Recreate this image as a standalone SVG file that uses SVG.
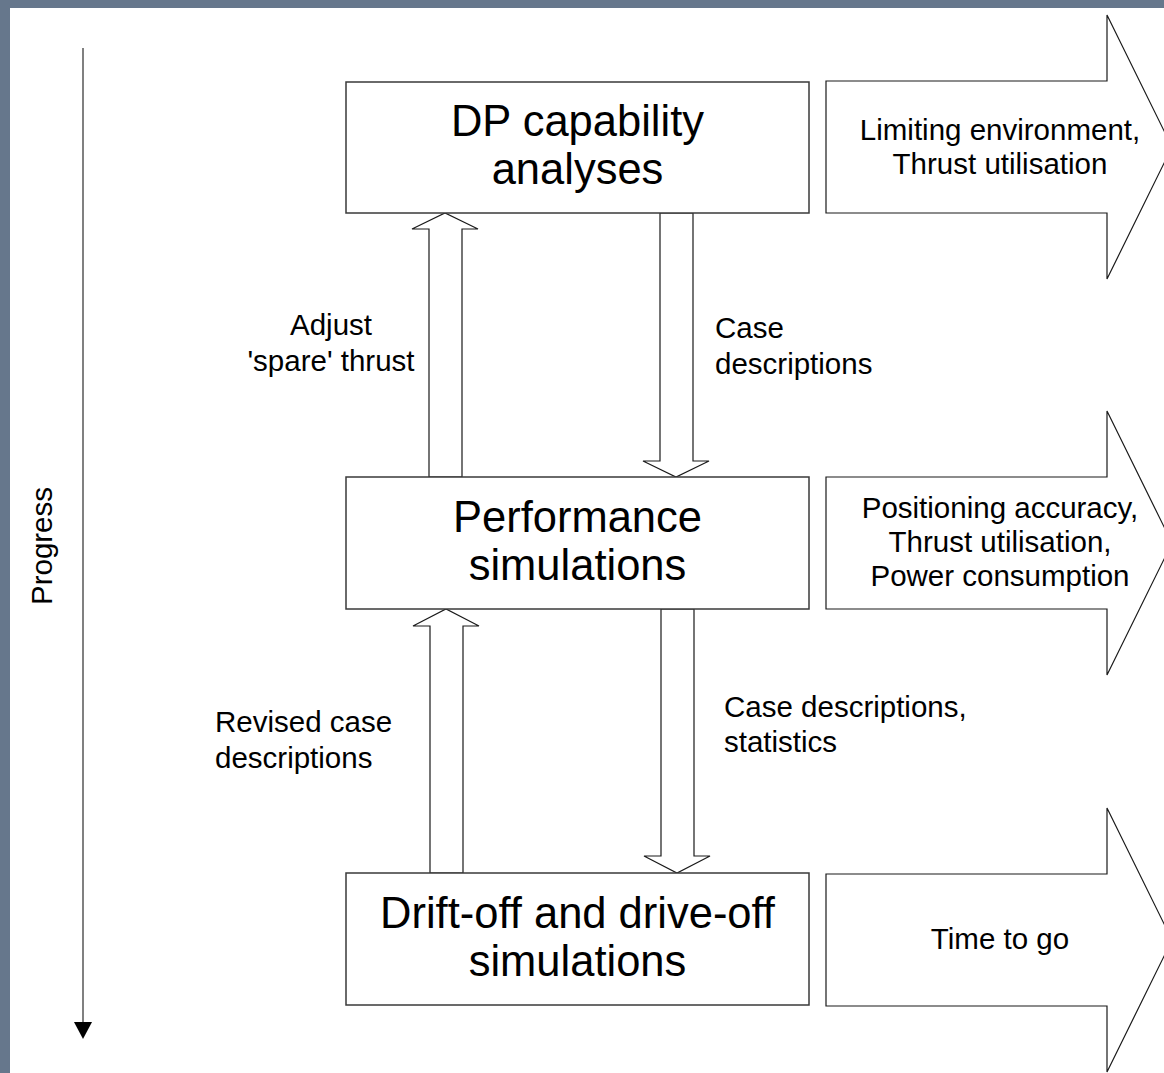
<svg xmlns="http://www.w3.org/2000/svg" width="1164" height="1073" viewBox="0 0 1164 1073">
  <style>
    text { font-family: "Liberation Sans", Arial, sans-serif; fill: #000; }
    .big { font-size: 43.5px; text-anchor: middle; }
    .small { font-size: 29.5px; }
    .mid { text-anchor: middle; }
    .box { fill: #fff; stroke: #3a3a3a; stroke-width: 1.5; }
    .shape { fill: #fff; stroke: #1a1a1a; stroke-width: 1.2; stroke-linejoin: miter; }
  </style>
  <rect x="0" y="0" width="1164" height="1073" fill="#66778c"/>
  <rect x="10" y="8" width="1154" height="1065" fill="#fff"/>

  <g id="progress">
    <line x1="83" y1="48" x2="83" y2="1023" stroke="#808080" stroke-width="2"/>
    <polygon points="74,1022 92,1022 83,1039" fill="#000"/>
    <text class="small mid" transform="translate(52 546) rotate(-90)">Progress</text>
  </g>

  <g id="connectors">
    <path class="shape" d="M429,477 V229 H412 L445,213 L478,229 H462 V477 Z"/>
    <path class="shape" d="M660,213 V461 H643 L676,477 L709,461 H693 V213 Z"/>
    <path class="shape" d="M430,873 V626 H413 L446,609 L479,626 H463 V873 Z"/>
    <path class="shape" d="M661,609 V856 H644 L677,873 L710,856 H694 V609 Z"/>
    <text class="small mid" x="331" y="335">Adjust</text>
    <text class="small mid" x="331" y="371">'spare' thrust</text>
    <text class="small" x="715" y="338">Case</text>
    <text class="small" x="715" y="374">descriptions</text>
    <text class="small" x="215" y="732">Revised case</text>
    <text class="small" x="215" y="768">descriptions</text>
    <text class="small" x="724" y="717">Case descriptions,</text>
    <text class="small" x="724" y="752">statistics</text>
  </g>

  <g id="node-dp">
    <rect class="box" x="346" y="82" width="463" height="131"/>
    <text class="big" x="577.5" y="136">DP capability</text>
    <text class="big" x="577.5" y="184">analyses</text>
  </g>
  <g id="node-perf">
    <rect class="box" x="346" y="477" width="463" height="132"/>
    <text class="big" x="577.5" y="532">Performance</text>
    <text class="big" x="577.5" y="580">simulations</text>
  </g>
  <g id="node-drift">
    <rect class="box" x="346" y="873" width="463" height="132"/>
    <text class="big" x="577.5" y="928">Drift-off and drive-off</text>
    <text class="big" x="577.5" y="976">simulations</text>
  </g>

  <g id="out-dp">
    <path class="shape" d="M826,81 H1107 V15 L1172,147 L1107,279 V213 H826 Z"/>
    <text class="small mid" x="1000" y="140">Limiting environment,</text>
    <text class="small mid" x="1000" y="174">Thrust utilisation</text>
  </g>
  <g id="out-perf">
    <path class="shape" d="M826,477 H1107 V411 L1172,543 L1107,675 V609 H826 Z"/>
    <text class="small mid" x="1000" y="518">Positioning accuracy,</text>
    <text class="small mid" x="1000" y="552">Thrust utilisation,</text>
    <text class="small mid" x="1000" y="586">Power consumption</text>
  </g>
  <g id="out-drift">
    <path class="shape" d="M826,874 H1107 V808 L1172,940 L1107,1072 V1006 H826 Z"/>
    <text class="small mid" x="1000" y="949">Time to go</text>
  </g>
</svg>
